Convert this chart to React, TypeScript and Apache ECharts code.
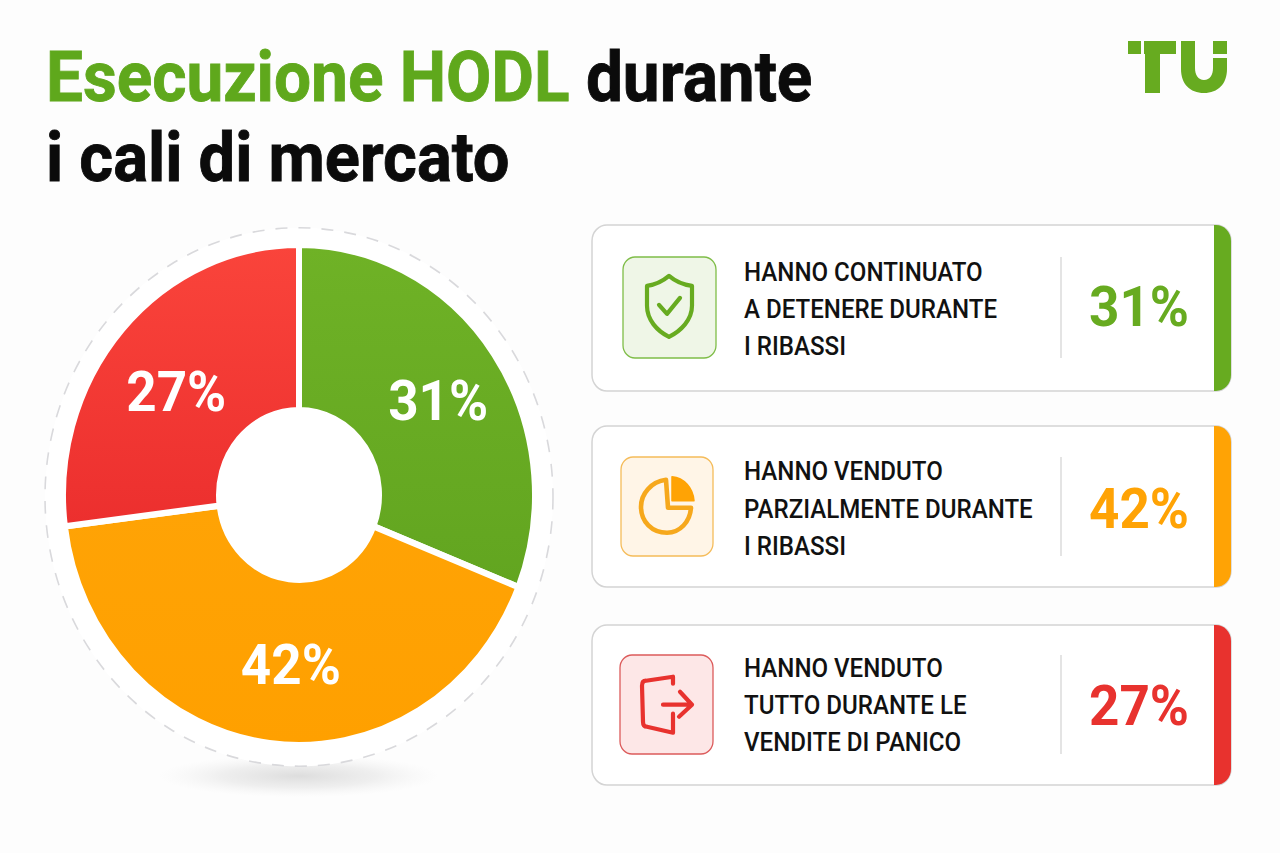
import React, { useEffect, useRef } from "react";
import * as echarts from "echarts";

const categories = [
  "HANNO CONTINUATO\nA DETENERE DURANTE\nI RIBASSI",
  "HANNO VENDUTO\nPARZIALMENTE DURANTE\nI RIBASSI",
  "HANNO VENDUTO\nTUTTO DURANTE LE\nVENDITE DI PANICO",
];
const values = [31, 42, 27];
const colors = ["#67AB20", "#FFA305", "#E8322E"];

const S = 1.06;
const H = 853 / S;
const Y = (y: number) => y / S;
const FONT = "Roboto";

const SHIELD = "M669 276 C662 282 654 285 647 286 L647 306 C647 320 657 331 669 337 C681 331 692 320 692 306 L692 286 C684 285 676 282 669 276 Z M659 305 L667 314 L680 298";
const PIE = "M666 480 C651 482 641 494 641 507 C641 522 652 533 667 533 C680 533 690 522 691 508 L668 508 L666 480 Z";
const WEDGE = "M672 477 C684 478 693 488 694 501 L672 501 Z";
const EXIT = "M673 684 L673 677 L646 681 Q642 681 642 686 L643 722 Q643 727 647 727 L673 733 L673 714 M663 705 L692 705 M680 692 L692 705 L679 717";
const LOGO = "M1128 41 H1141 V54 H1128 Z M1144 41 H1176 V54 H1160 V93 H1145 V54 H1144 Z M1181 41 H1195 V68 C1195 75 1198 80 1204 80 C1210 80 1213 75 1213 68 V58 H1227 V69 C1227 84 1218 93 1204 93 C1190 93 1181 84 1181 69 Z M1213 41 H1227 V54 H1213 Z";

echarts.graphic.registerShape("shieldIcon", echarts.graphic.extendPath(SHIELD, {}));
echarts.graphic.registerShape("pieIcon", echarts.graphic.extendPath(PIE, {}));
echarts.graphic.registerShape("wedgeIcon", echarts.graphic.extendPath(WEDGE, {}));
echarts.graphic.registerShape("exitIcon", echarts.graphic.extendPath(EXIT, {}));
echarts.graphic.registerShape("tuLogo", echarts.graphic.extendPath(LOGO, {}));

const cards = [
  { top: 225, bottom: 391, box: [623, 257, 93, 101], boxFill: "#EFF6E7", boxStroke: "#7FBD48", text: [272, 309, 346] },
  { top: 426, bottom: 587, box: [621, 457, 92, 99], boxFill: "#FFF5E7", boxStroke: "#F5BC5A", text: [471, 509, 546] },
  { top: 625, bottom: 785, box: [620, 655, 93, 99], boxFill: "#FDE7E7", boxStroke: "#DC5B5B", text: [668, 705, 742] },
];

function buildGraphic() {
  const els: any[] = [];
  const shape = (type: string, fill: string, stroke: string, lineWidth = 4.2) => ({
    type, x: 0, y: 0, scaleX: 1, scaleY: 1 / S, z: 20,
    style: { fill, stroke, lineWidth, lineJoin: "round", lineCap: "round" },
  });
  els.push({
    type: "ellipse", z: 1, shape: { cx: 299, cy: Y(776), rx: 140, ry: 20 },
    style: {
      fill: new echarts.graphic.RadialGradient(0.5, 0.5, 0.5, [
        { offset: 0, color: "rgba(130,130,130,0.26)" },
        { offset: 0.55, color: "rgba(150,150,150,0.14)" },
        { offset: 1, color: "rgba(200,200,200,0)" },
      ]),
    },
  });
  els.push({
    type: "circle", z: 2, shape: { cx: 299, cy: Y(497), r: 254 },
    style: { fill: "#FFFFFF", stroke: "#D9D9DC", lineWidth: 1.6, lineDash: [12, 11] },
  });
  cards.forEach((c, i) => {
    const top = Y(c.top);
    const h = Y(c.bottom) - top;
    els.push({
      type: "rect", z: 10, shape: { x: 592, y: top, width: 639, height: h, r: 15 },
      style: { fill: "#FFFFFF", stroke: "#D4D4D4", lineWidth: 1.5 },
    });
    els.push({
      type: "rect", z: 11, shape: { x: 1214, y: top, width: 17, height: h, r: [0, 15, 15, 0] },
      style: { fill: colors[i] },
    });
    els.push({
      type: "rect", z: 11,
      shape: { x: c.box[0], y: Y(c.box[1]), width: c.box[2], height: c.box[3] / S, r: 12 },
      style: { fill: c.boxFill, stroke: c.boxStroke, lineWidth: 1.3 },
    });
    els.push({
      type: "line", z: 11,
      shape: { x1: 1061, y1: Y(c.box[1]), x2: 1061, y2: Y(c.box[1] + c.box[3]) },
      style: { stroke: "#D6D6D6", lineWidth: 1.3 },
    });
    categories[i].split("\n").forEach((line, j) => {
      els.push({
        type: "text", z: 12, x: 744, y: Y(c.text[j]),
        style: { text: line, fill: "#111111", font: `500 24.1px ${FONT}`, textVerticalAlign: "middle", textAlign: "left" },
      });
    });
    els.push({
      type: "text", z: 12, x: 1139, y: Y([306, 508, 705][i]),
      style: { text: `${values[i]}%`, fill: colors[i], font: `700 53px ${FONT}`, textAlign: "center", textVerticalAlign: "middle" },
    });
  });
  els.push(shape("shieldIcon", "none", colors[0]));
  els.push(shape("pieIcon", "none", "#F6A81C", 4.6));
  els.push(shape("wedgeIcon", colors[1], colors[1], 1.5));
  els.push(shape("exitIcon", "none", colors[2]));
  els.push(shape("tuLogo", colors[0], "none", 0));
  return els;
}

const grad = (a: string, b: string) =>
  new echarts.graphic.LinearGradient(0, 0, 0, 1, [
    { offset: 0, color: a },
    { offset: 1, color: b },
  ]);

export default function App() {
  const ref = useRef<HTMLDivElement>(null);
  useEffect(() => {
    const chart = echarts.init(ref.current!, undefined, { renderer: "svg" });
    const sliceFill = [grad("#6FB226", "#62A520"), grad("#FFA305", "#FFA000"), grad("#FA443B", "#EC2F2E")];
    const offsets = [[6, 1], [12, 0], [-2, 9]];
    chart.setOption({
      animation: false,
      backgroundColor: "#FDFDFD",
      title: {
        left: 46, top: Y(38), padding: 0,
        text: "{g|Esecuzione HODL}{k1| durante}\n{k|i cali di mercato}",
        textStyle: {
          rich: {
            g: { fontFamily: FONT, fontWeight: 700, fontSize: 65.7, lineHeight: 75, color: "#5FA81C", textBorderColor: "#5FA81C", textBorderWidth: 0.8 },
            k1: { fontFamily: FONT, fontWeight: 700, fontSize: 65.7, lineHeight: 75, color: "#0B0B0B", textBorderColor: "#0B0B0B", textBorderWidth: 0.8 },
            k: { fontFamily: FONT, fontWeight: 700, fontSize: 65, lineHeight: 75, color: "#0B0B0B", textBorderColor: "#0B0B0B", textBorderWidth: 0.8 },
          },
        },
      },
      graphic: { elements: buildGraphic() },
      series: [
        {
          type: "pie",
          z: 5,
          center: [299, Y(495)],
          radius: [80, 236],
          startAngle: 90,
          clockwise: true,
          silent: true,
          itemStyle: { borderColor: "#FFFFFF", borderWidth: 6 },
          label: {
            show: true,
            position: "inside",
            formatter: "{c}%",
            color: "#FFFFFF",
            fontFamily: FONT,
            fontWeight: 700,
            fontSize: 53,
          },
          labelLine: { show: false },
          data: values.map((v, i) => ({
            value: v,
            name: categories[i],
            itemStyle: { color: sliceFill[i] },
            label: { offset: offsets[i] },
          })),
        },
      ],
    });
    return () => chart.dispose();
  }, []);
  return (
    <div style={{ position: "absolute", left: 0, top: 0, width: 1280, height: 853, overflow: "hidden", background: "#FDFDFD" }}>
      <div ref={ref} style={{ width: 1280, height: H, transform: `scaleY(${S})`, transformOrigin: "0 0" }} />
    </div>
  );
}
